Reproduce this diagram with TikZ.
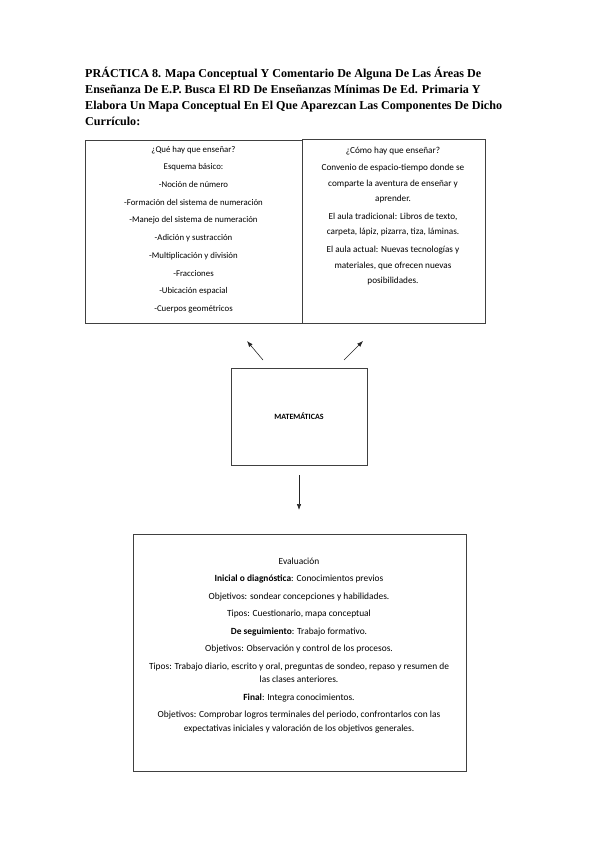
\documentclass[tikz,border=0pt]{standalone}
\usepackage{fontspec}
\setmainfont{Liberation Serif}
\newfontfamily\calfont{Carlito}
\usetikzlibrary{arrows.meta}
\begin{document}
\begin{tikzpicture}[x=1pt,y=-1pt,
  box/.style={draw=black!75, line width=0.9pt, inner sep=0pt, outer sep=0pt, fill=none},
  txt/.style={align=center, inner sep=0pt, font=\calfont},
  arr/.style={-{Latex[length=6pt,width=4.5pt]}, line width=0.6pt, black!85}]
\useasboundingbox (0,0) rectangle (599,848);
% title
\node[anchor=north west, align=left, inner sep=0pt, font=\bfseries\fontsize{12.1}{16}\selectfont] (title) at (85,67)
  {PRÁCTICA 8. Mapa Conceptual Y Comentario De Alguna De Las Áreas De\\
   Enseñanza De E.P. Busca El RD De Enseñanzas Mínimas De Ed. Primaria Y\\
   Elabora Un Mapa Conceptual En El Que Aparezcan Las Componentes De Dicho\\
   Currículo:};
% boxes
\node[box, minimum width=217, minimum height=183] (qbox) at (193.5,231.5) {};
\node[box, minimum width=183, minimum height=184] (cbox) at (393.5,231) {};
\node[box, minimum width=136, minimum height=97, font=\calfont\bfseries\fontsize{8}{9}\selectfont] (mat) at (299,416.5) {MATEMÁTICAS};
\node[box, minimum width=333, minimum height=237] (ebox) at (299.5,652.5) {};
% texts
\node[txt, font=\calfont\fontsize{8.8}{17.7}\selectfont] (qtext) at (193.5,229.5)
  {¿Qué hay que enseñar?\\
   Esquema básico:\\
   -Noción de número\\
   -Formación del sistema de numeración\\
   -Manejo del sistema de numeración\\
   -Adición y sustracción\\
   -Multiplicación y división\\
   -Fracciones\\
   -Ubicación espacial\\
   -Cuerpos geométricos};
\node[txt, font=\calfont\fontsize{9.2}{15.5}\selectfont] (ctext) at (393,216.5)
  {¿Cómo hay que enseñar?\\[1.5pt]
   Convenio de espacio-tiempo donde se\\
   comparte la aventura de enseñar y\\
   aprender.\\[2pt]
   El aula tradicional: Libros de texto,\\
   carpeta, lápiz, pizarra, tiza, láminas.\\[2.5pt]
   El aula actual: Nuevas tecnologías y\\
   materiales, que ofrecen nuevas\\
   posibilidades.};
\node[txt, font=\calfont\fontsize{9.4}{13.5}\selectfont] (etext) at (299,645.5)
  {Evaluación\\[4pt]
   \textbf{Inicial o diagnóstica}: Conocimientos previos\\[4pt]
   Objetivos: sondear concepciones y habilidades.\\[4pt]
   Tipos: Cuestionario, mapa conceptual\\[4pt]
   \textbf{De seguimiento}: Trabajo formativo.\\[4pt]
   Objetivos: Observación y control de los procesos.\\[4pt]
   Tipos: Trabajo diario, escrito y oral, preguntas de sondeo, repaso y resumen de\\
   las clases anteriores.\\[4pt]
   \textbf{Final}: Integra conocimientos.\\[4pt]
   Objetivos: Comprobar logros terminales del periodo, confrontarlos con las\\
   expectativas iniciales y valoración de los objetivos generales.};
% arrows
\coordinate (a1s) at (263,360);
\coordinate (a1e) at (247,341);
\coordinate (a2s) at (344,360);
\coordinate (a2e) at (363,341);
\coordinate (a3s) at (299,475);
\coordinate (a3e) at (299,510);
\draw[arr] (a1s) -- (a1e);
\draw[arr] (a2s) -- (a2e);
\draw[arr] (a3s) -- (a3e);
\end{tikzpicture}
\end{document}
